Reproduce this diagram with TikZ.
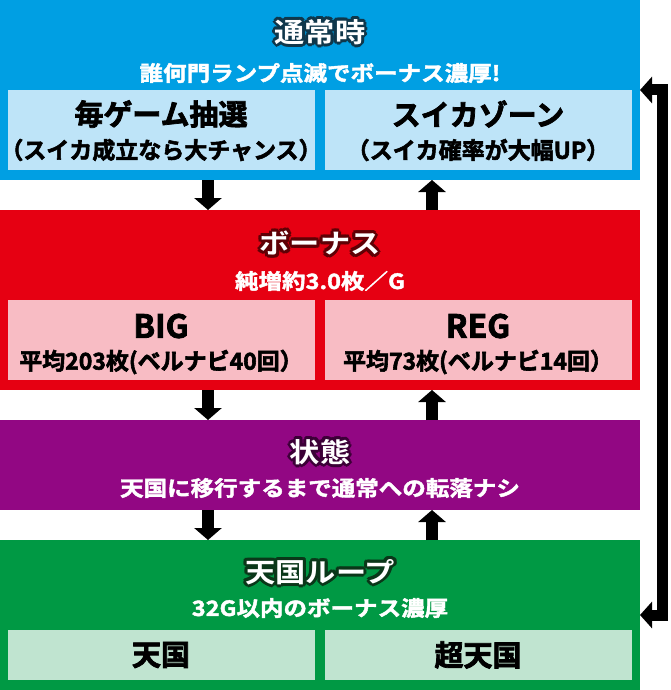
\documentclass[tikz,border=0pt]{standalone}
\usepackage{fontspec}
\usetikzlibrary{arrows.meta}
\newfontfamily\jp{Noto Sans CJK JP}[UprightFont=* Bold, FakeBold=2.5]
\newfontfamily\jpw{Noto Sans CJK JP}[UprightFont=* Bold, FakeStretch=1.12]
\newfontfamily\jpwb{Noto Sans CJK JP}[UprightFont=* Bold, FakeStretch=1.12, FakeBold=2]
\definecolor{blueM}{RGB}{0,159,227}
\definecolor{blueL}{RGB}{190,228,248}
\definecolor{blueD}{RGB}{15,55,75}
\definecolor{redM}{RGB}{230,0,18}
\definecolor{redL}{RGB}{248,188,196}
\definecolor{redD}{RGB}{95,0,5}
\definecolor{purM}{RGB}{146,7,131}
\definecolor{purD}{RGB}{60,0,55}
\definecolor{greM}{RGB}{0,153,68}
\definecolor{greL}{RGB}{192,228,208}
\definecolor{greD}{RGB}{10,55,25}
\tikzset{
  panel/.style={draw=none, minimum width=640pt, anchor=north west, inner sep=0pt, outer sep=0pt},
  subbox/.style={draw=none, minimum width=307pt, anchor=north west, inner sep=0pt, outer sep=0pt},
  ttl/.style={font=\jpw\fontsize{27}{29}\selectfont, inner sep=0pt},
  subt/.style={font=\jpwb\fontsize{21}{23}\selectfont, text=white, inner sep=0pt},
  big/.style={font=\jp\fontsize{29}{31}\selectfont, inner sep=0pt},
  latin/.style={font=\jp\fontsize{32}{34}\selectfont, inner sep=0pt},
  small/.style={font=\jp\fontsize{23}{25}\selectfont, inner sep=0pt},
  arr/.style={line width=12pt, -{Triangle[length=12pt,width=27pt]}},
  bracket/.style={line width=11pt, line join=miter, {Triangle[length=12pt,width=26pt]}-{Triangle[length=12pt,width=26pt]}},
}
% outlined title: name, x, y, outline colour, text
\newcommand\OutTitle[5]{%
  \foreach \a in {0,30,...,330}{%
    \node[ttl] (#1o\a) at ($(#2,#3)+(\a:3pt)$) {\textcolor{#4}{#5}};}
  \node[ttl] (#1) at (#2,#3) {\textcolor{white}{#5}};}
\usetikzlibrary{calc}
\begin{document}
\begin{tikzpicture}[x=1pt,y=-1pt]
\useasboundingbox (0,0) rectangle (670,690);
% panels
\node[panel, fill=blueM, minimum height=180pt] (normal) at (0,0) {};
\node[panel, fill=redM, minimum height=180pt] (bonus) at (0,210) {};
\node[panel, fill=purM, minimum height=90pt] (state) at (0,420) {};
\node[panel, fill=greM, minimum height=150pt] (heaven) at (0,540) {};
% sub boxes
\node[subbox, fill=blueL, minimum height=80pt] (n1) at (8,90) {};
\node[subbox, fill=blueL, minimum height=80pt] (n2) at (325,90) {};
\node[subbox, fill=redL, minimum height=80pt] (b1) at (8,300) {};
\node[subbox, fill=redL, minimum height=80pt] (b2) at (325,300) {};
\node[subbox, fill=greL, minimum height=50pt] (h1) at (8,630) {};
\node[subbox, fill=greL, minimum height=50pt] (h2) at (325,630) {};
% texts
\OutTitle{normalT}{320}{32}{blueD}{通常時}
\node[subt] (normalS) at (320,73) {誰何門ランプ点滅でボーナス濃厚!};
\node[big] (n1a) at (161,114) {毎ゲーム抽選};
\node[small] (n1b) at (161,150) {（スイカ成立なら大チャンス）};
\node[big] (n2a) at (478,114) {スイカゾーン};
\node[small] (n2b) at (478,150) {（スイカ確率が大幅UP）};

\OutTitle{bonusT}{320}{243}{redD}{ボーナス}
\node[subt] (bonusS) at (320,281) {純増約3.0枚／G};
\node[latin] (b1a) at (161,326) {BIG};
\node[small] (b1b) at (161,362) {平均203枚(ベルナビ40回）};
\node[latin] (b2a) at (478,326) {REG};
\node[small] (b2b) at (478,362) {平均73枚(ベルナビ14回）};

\OutTitle{stateT}{320}{452}{purD}{状態}
\node[subt] (stateS) at (320,488) {天国に移行するまで通常への転落ナシ};

\OutTitle{heavenT}{320}{572}{greD}{天国ループ}
\node[subt] (heavenS) at (320,608) {32G以内のボーナス濃厚};
\node[big] (h1a) at (161,655) {天国};
\node[big] (h2a) at (478,655) {超天国};
% arrows
\draw[arr] (normal.south -| 208,0) -- (bonus.north -| 208,0);
\draw[arr] (bonus.north -| 432,0) -- (normal.south -| 432,0);
\draw[arr] (bonus.south -| 208,0) -- (state.north -| 208,0);
\draw[arr] (state.north -| 432,0) -- (bonus.south -| 432,0);
\draw[arr] (state.south -| 208,0) -- (heaven.north -| 208,0);
\draw[arr] (heaven.north -| 432,0) -- (state.south -| 432,0);
\draw[bracket] (normal.east) -- ++(22,0) |- (heaven.east);
\end{tikzpicture}
\end{document}
